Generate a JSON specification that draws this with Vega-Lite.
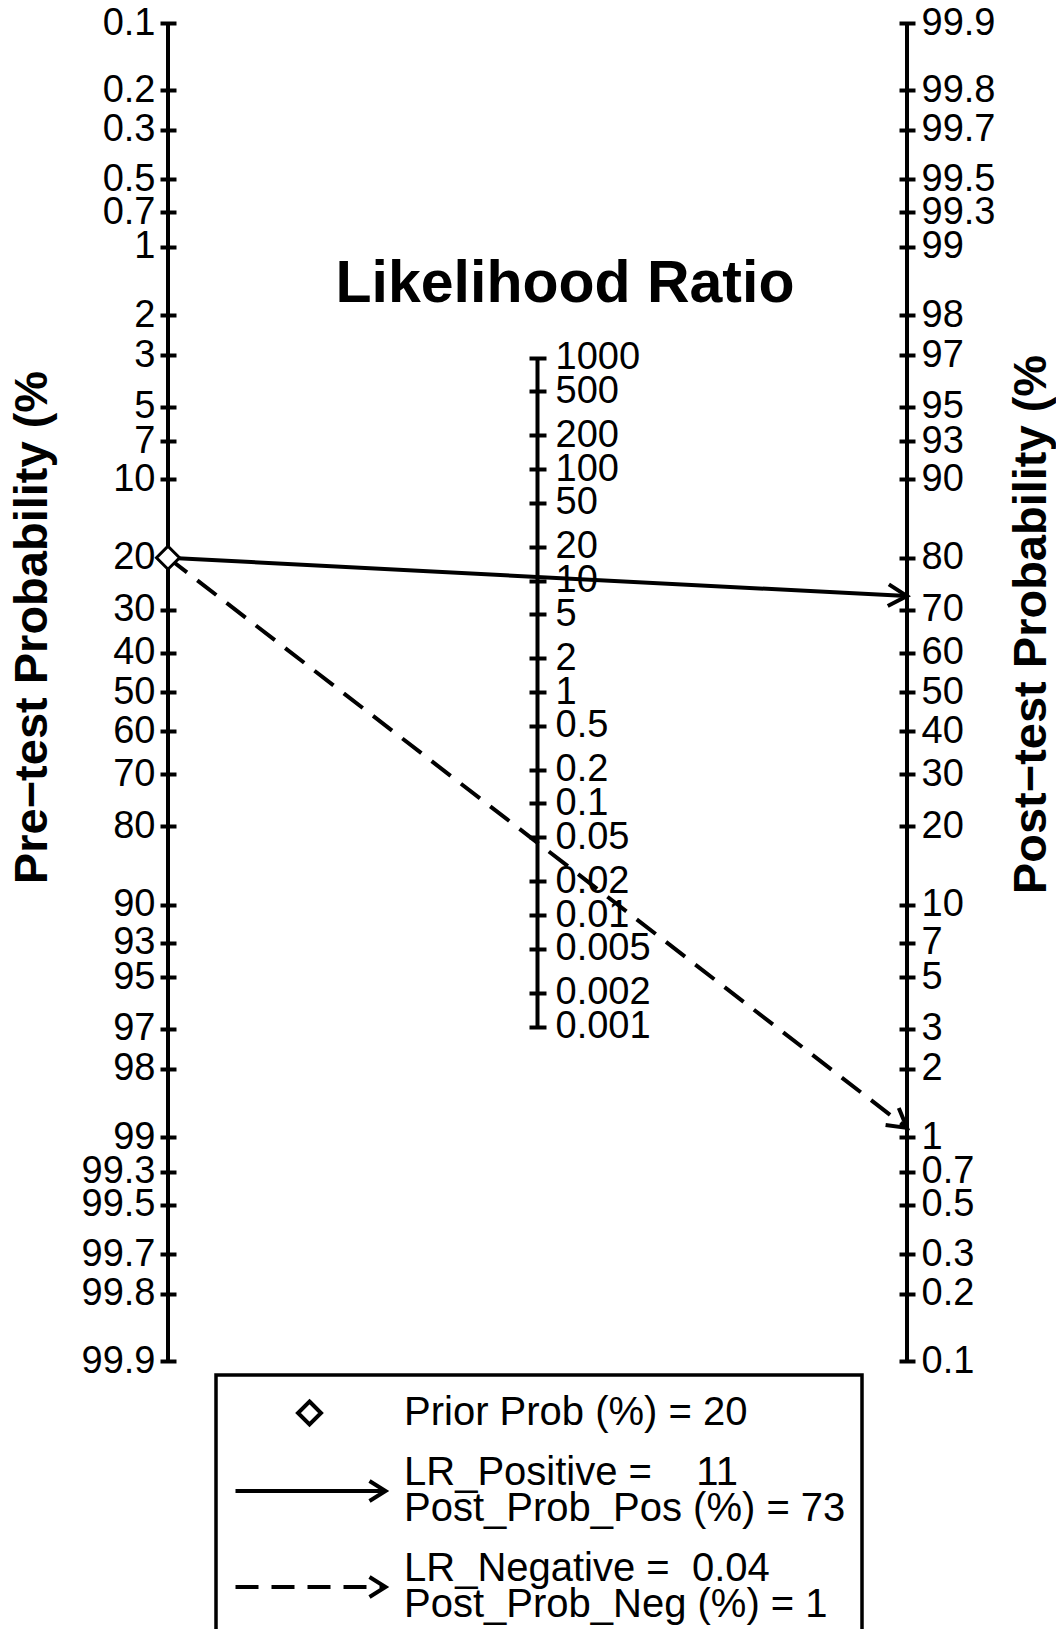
{
  "$schema": "https://vega.github.io/schema/vega-lite/v6.json",
  "autosize": {"type": "none"},
  "padding": {"left": 168, "top": 23, "right": 149, "bottom": 268},
  "width": 739,
  "height": 1338,
  "background": "white",
  "config": {
    "view": {"stroke": null},
    "font": "Liberation Sans",
    "style": {"guide-label": {"lineHeight": 36}},
    "axis": {
      "grid": false,
      "domain": false,
      "labelFont": "Liberation Sans",
      "labelFontSize": 38,
      "labelColor": "black",
      "tickColor": "black",
      "tickWidth": 4,
      "labelOverlap": false,
      "labelBound": false,
      "labelFlush": false,
      "titleFont": "Liberation Sans",
      "titleFontWeight": "bold",
      "titleColor": "black"
    },
    "legend": {"strokeWidth": 3.5}
  },
  "data": {
    "values": [
      {"series": "Prior", "legend": "Prior Prob (%) = 20", "side": "Pre", "probability": 20, "logodds": -1.386294},
      {"series": "Positive", "legend": "LR_Positive = \u00a0\u00a0\u00a011\nPost_Prob_Pos (%) = 73", "side": "Pre", "probability": 20, "logodds": -1.386294},
      {"series": "Positive", "legend": "LR_Positive = \u00a0\u00a0\u00a011\nPost_Prob_Pos (%) = 73", "side": "Post", "probability": 73, "logodds": -0.99},
      {"series": "Negative", "legend": "LR_Negative = \u00a00.04\nPost_Prob_Neg (%) = 1", "side": "Pre", "probability": 20, "logodds": -1.386294},
      {"series": "Negative", "legend": "LR_Negative = \u00a00.04\nPost_Prob_Neg (%) = 1", "side": "Post", "probability": 1, "logodds": 4.5}
    ]
  },
  "resolve": {"scale": {"y": "independent"}, "axis": {"y": "independent"}},
  "layer": [
    {
      "transform": [{"filter": "datum.series == 'Prior'"}],
      "mark": {"type": "rule", "color": "black", "strokeWidth": 4},
      "encoding": {
        "x": {"datum": "Pre", "type": "nominal", "scale": {"type": "point", "domain": ["Pre", "Mid", "Post"], "padding": 0}, "axis": null},
        "y": {
          "datum": -6.906755, "type": "quantitative",
          "scale": {"domain": [-6.906755, 6.906755], "reverse": true, "nice": false, "zero": false},
          "axis": {
            "orient": "left", "offset": -8, "tickSize": 16, "labelPadding": 5,
            "values": [-6.906755, -6.212606, -5.806138, -5.293305, -4.954821, -4.59512, -3.89182, -3.476099, -2.944439, -2.586689, -2.197225, -1.386294, -0.847298, -0.405465, 0, 0.405465, 0.847298, 1.386294, 2.197225, 2.586689, 2.944439, 3.476099, 3.89182, 4.59512, 4.954821, 5.293305, 5.806138, 6.212606, 6.906755],
            "labelExpr": "format(100/(1+exp(-datum.value)), '.3~r')",
            "title": "Pre−test Probability (%",
            "titleFontSize": 47, "titleAngle": -90, "titleX": -130, "titleY": 604,
            "titleAlign": "center", "titleBaseline": "alphabetic"
          }
        },
        "y2": {"datum": 6.906755}
      }
    },
    {
      "transform": [{"filter": "datum.series == 'Positive'"}],
      "mark": {"type": "line", "color": "black", "strokeWidth": 4},
      "encoding": {
        "x": {"field": "side", "type": "nominal", "scale": {"type": "point", "domain": ["Pre", "Mid", "Post"], "padding": 0}, "axis": null},
        "y": {"field": "logodds", "type": "quantitative", "scale": {"domain": [-6.906755, 6.906755], "reverse": true, "nice": false, "zero": false}, "axis": null}
      }
    },
    {
      "transform": [{"filter": "datum.series == 'Negative'"}],
      "mark": {"type": "line", "color": "black", "strokeWidth": 4, "strokeDash": [24, 13]},
      "encoding": {
        "x": {"field": "side", "type": "nominal", "scale": {"type": "point", "domain": ["Pre", "Mid", "Post"], "padding": 0}, "axis": null},
        "y": {"field": "logodds", "type": "quantitative", "scale": {"domain": [-6.906755, 6.906755], "reverse": true, "nice": false, "zero": false}, "axis": null}
      }
    },
    {
      "transform": [{"filter": "datum.series == 'Positive' && datum.side == 'Post'"}],
      "mark": {"type": "point", "shape": "M-1,-0.577L0,0L-1,0.577", "size": 1400, "filled": false, "stroke": "black", "strokeWidth": 4, "opacity": 1, "angle": 2.97},
      "encoding": {
        "x": {"field": "side", "type": "nominal", "scale": {"type": "point", "domain": ["Pre", "Mid", "Post"], "padding": 0}, "axis": null},
        "y": {"field": "logodds", "type": "quantitative", "scale": {"domain": [-6.906755, 6.906755], "reverse": true, "nice": false, "zero": false}, "axis": null}
      }
    },
    {
      "transform": [{"filter": "datum.series == 'Negative' && datum.side == 'Post'"}],
      "mark": {"type": "point", "shape": "M-1,-0.577L0,0L-1,0.577", "size": 1400, "filled": false, "stroke": "black", "strokeWidth": 4, "opacity": 1, "angle": 37.65},
      "encoding": {
        "x": {"field": "side", "type": "nominal", "scale": {"type": "point", "domain": ["Pre", "Mid", "Post"], "padding": 0}, "axis": null},
        "y": {"field": "logodds", "type": "quantitative", "scale": {"domain": [-6.906755, 6.906755], "reverse": true, "nice": false, "zero": false}, "axis": null}
      }
    },
    {
      "transform": [{"filter": "datum.series == 'Prior'"}],
      "mark": {"type": "point", "size": 1600, "filled": false, "fill": "white", "color": "black", "strokeWidth": 3, "opacity": 1},
      "encoding": {
        "x": {"field": "side", "type": "nominal", "scale": {"type": "point", "domain": ["Pre", "Mid", "Post"], "padding": 0}, "axis": null},
        "y": {"field": "logodds", "type": "quantitative", "scale": {"domain": [-6.906755, 6.906755], "reverse": true, "nice": false, "zero": false}, "axis": null},
        "shape": {
          "field": "legend", "type": "nominal",
          "scale": {
            "domain": ["Prior Prob (%) = 20", "LR_Positive = \u00a0\u00a0\u00a011\nPost_Prob_Pos (%) = 73", "LR_Negative = \u00a00.04\nPost_Prob_Neg (%) = 1"],
            "range": [
              "M0,-0.575L0.575,0L0,0.575L-0.575,0Z",
              "M-3.7,0.9L3.8,0.9M3.0,0.4L3.8,0.9L3.0,1.4",
              "M-3.7,0.9L-2.55,0.9M-1.9,0.9L-0.75,0.9M-0.1,0.9L1.05,0.9M1.7,0.9L2.85,0.9M3.5,0.9L3.8,0.9M3.0,0.4L3.8,0.9L3.0,1.4"
            ]
          },
          "legend": {
            "title": null,
            "orient": "none",
            "legendX": 48,
            "legendY": 1352,
            "direction": "vertical",
            "symbolSize": 1600,
            "symbolOffset": 55.5,
            "symbolStrokeWidth": 4,
            "labelFont": "Liberation Sans",
            "labelFontSize": 40,
            "labelColor": "black",
            "labelLimit": 1000,
            "labelOffset": 72.5,
            "labelBaseline": "middle",
            "labelExpr": "split(datum.label, '\\n')",
            "rowPadding": 18,
            "padding": 16,
            "strokeColor": "black",
            "encode": {
              "symbols": {"update": {
                "shape": {"scale": "shape", "field": "value"},
                "size": {"value": 1600},
                "fill": {"value": "white"},
                "stroke": {"value": "black"},
                "strokeWidth": {"value": 4},
                "opacity": {"value": 1},
                "x": {"signal": "datum.size", "mult": 0.5, "offset": 55.5},
                "y": {"signal": "datum.size", "mult": 0.5}
              }},
              "labels": {"update": {"lineHeight": {"value": 36}}}
            }
          }
        }
      }
    },
    {
      "transform": [{"filter": "datum.series == 'Prior'"}],
      "mark": {"type": "rule", "color": "black", "strokeWidth": 4},
      "encoding": {
        "x": {"datum": "Mid", "type": "nominal", "scale": {"type": "point", "domain": ["Pre", "Mid", "Post"], "padding": 0}, "axis": null},
        "y": {
          "datum": 0.001, "type": "quantitative",
          "scale": {"type": "log", "domain": [0.000001, 1000000], "nice": false},
          "axis": {
            "orient": "right", "offset": -378, "tickSize": 17, "labelPadding": 9,
            "values": [1000, 500, 200, 100, 50, 20, 10, 5, 2, 1, 0.5, 0.2, 0.1, 0.05, 0.02, 0.01, 0.005, 0.002, 0.001],
            "format": "~g",
            "title": "Likelihood Ratio",
            "titleFontSize": 59, "titleAngle": 0, "titleX": 35.5, "titleY": 278,
            "titleAlign": "center", "titleBaseline": "alphabetic"
          }
        },
        "y2": {"datum": 1000}
      }
    },
    {
      "transform": [{"filter": "datum.series == 'Prior'"}],
      "mark": {"type": "rule", "color": "black", "strokeWidth": 4},
      "encoding": {
        "x": {"datum": "Post", "type": "nominal", "scale": {"type": "point", "domain": ["Pre", "Mid", "Post"], "padding": 0}, "axis": null},
        "y": {
          "datum": -6.906755, "type": "quantitative",
          "scale": {"domain": [-6.906755, 6.906755], "reverse": true, "nice": false, "zero": false},
          "axis": {
            "orient": "right", "offset": -8, "tickSize": 16, "labelPadding": 6,
            "values": [-6.906755, -6.212606, -5.806138, -5.293305, -4.954821, -4.59512, -3.89182, -3.476099, -2.944439, -2.586689, -2.197225, -1.386294, -0.847298, -0.405465, 0, 0.405465, 0.847298, 1.386294, 2.197225, 2.586689, 2.944439, 3.476099, 3.89182, 4.59512, 4.954821, 5.293305, 5.806138, 6.212606, 6.906755],
            "labelExpr": "format(100/(1+exp(datum.value)), '.3~r')",
            "title": "Post−test Probability (%",
            "titleFontSize": 47, "titleAngle": -90, "titleX": 146, "titleY": 601,
            "titleAlign": "center", "titleBaseline": "alphabetic"
          }
        },
        "y2": {"datum": 6.906755}
      }
    }
  ]
}
